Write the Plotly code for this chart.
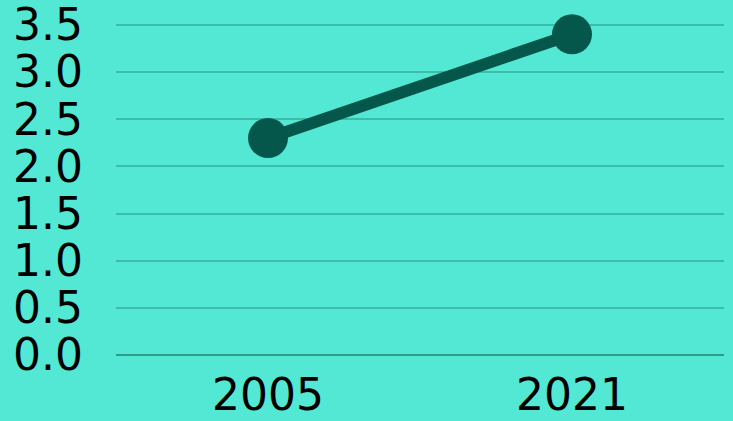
import plotly.graph_objects as go

years = ["2005", "2021"]
values = [2.3, 3.4]
y_ticks = [0, 0.5, 1.0, 1.5, 2.0, 2.5, 3.0, 3.5]
y_tick_labels = ["0.0", "0.5", "1.0", "1.5", "2.0", "2.5", "3.0", "3.5"]

BG = "#52E8D4"
DARK = "#04574A"
FONT = "DejaVu Sans"
FS = 44

fig = go.Figure()
fig.add_trace(go.Scatter(
    x=years, y=values, mode="lines+markers",
    line=dict(color=DARK, width=12),
    marker=dict(color=DARK, size=40),
    cliponaxis=False,
    hoverinfo="skip",
))

fig.update_layout(
    width=733, height=421,
    margin=dict(l=116, r=9, t=23, b=66, autoexpand=False),
    paper_bgcolor=BG, plot_bgcolor=BG,
    showlegend=False,
    font=dict(family=FONT, size=FS, color="#000000"),
    xaxis=dict(
        type="category", range=[-0.5, 1.5],
        showgrid=False, zeroline=False, showline=False,
        ticks="", tickfont=dict(size=FS, family=FONT, color="#000000"),
        ticklabelstandoff=10, automargin=False, ticklabeloverflow="allow",
    ),
    yaxis=dict(
        range=[0, 3.52], tickvals=y_ticks, ticktext=y_tick_labels,
        showgrid=True, gridcolor="#3DBDA9", gridwidth=1.5,
        zeroline=True, zerolinecolor="#2E9C8B", zerolinewidth=2,
        showline=False, ticks="",
        tickfont=dict(size=FS, family=FONT, color="#000000"),
        ticklabelstandoff=32, automargin=False, ticklabeloverflow="allow",
    ),
)

fig.write_html("out.html")
